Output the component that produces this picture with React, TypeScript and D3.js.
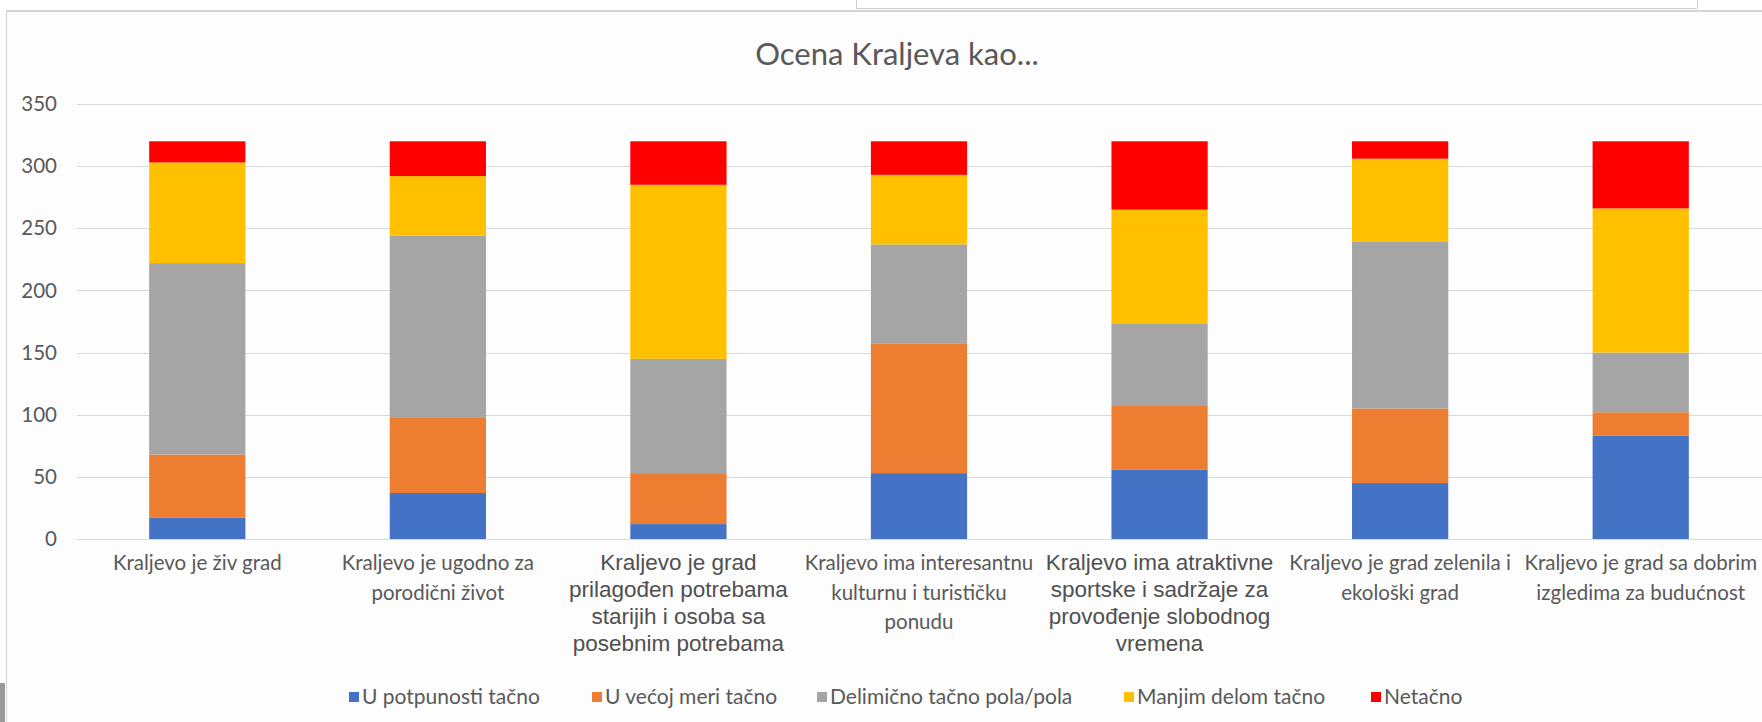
import React from "react";
import * as d3 from "d3";

const categories: string[][] = [
  ["Kraljevo je živ grad"],
  ["Kraljevo je ugodno za", "porodični život"],
  ["Kraljevo je grad", "prilagođen potrebama", "starijih i osoba sa", "posebnim potrebama"],
  ["Kraljevo ima interesantnu", "kulturnu i turističku", "ponudu"],
  ["Kraljevo ima atraktivne", "sportske i sadržaje za", "provođenje slobodnog", "vremena"],
  ["Kraljevo je grad zelenila i", "ekološki grad"],
  ["Kraljevo je grad sa dobrim", "izgledima za budućnost"],
];
// labels drawn in an Arial-like face in the original
const arialLabels = [false, false, true, false, true, false, false];

const seriesNames = [
  "U potpunosti tačno",
  "U većoj meri tačno",
  "Delimično tačno pola/pola",
  "Manjim delom tačno",
  "Netačno",
];
const seriesColors = ["#4472C4", "#ED7D31", "#A5A5A5", "#FFC000", "#FF0000"];

const potpuno = [17, 37, 12, 53, 56, 45, 83];
const vecoj = [51, 61, 41, 104, 51, 60, 19];
const delimicno = [154, 146, 92, 80, 66, 134, 48];
const manjim = [81, 48, 140, 56, 92, 67, 116];
const netacno = [17, 28, 35, 27, 55, 14, 54];

const yTicks = [0, 50, 100, 150, 200, 250, 300, 350];

const W = 1762;
const H = 722;

export default function App() {
  const x = d3
    .scaleBand<number>()
    .domain(categories.map((_, i) => i))
    .range([77, 1761])
    .paddingInner(0.6)
    .paddingOuter(0.3);
  const y = d3.scaleLinear().domain([0, 350]).range([539, 104]);

  const table = categories.map((_, i) => ({
    i,
    s0: potpuno[i],
    s1: vecoj[i],
    s2: delimicno[i],
    s3: manjim[i],
    s4: netacno[i],
  }));
  const stack = d3.stack<any>().keys(["s0", "s1", "s2", "s3", "s4"])(table);

  const legendX = [349, 592, 817, 1124, 1371];
  const textColor = "#595959";
  const font = "Lato, 'Open Sans', sans-serif";

  return (
    <svg
      width={W}
      height={H}
      style={{ position: "absolute", left: 0, top: 0, background: "#ffffff" }}
    >
      <rect x={0} y={0} width={W} height={H} fill="#ffffff" />
      {/* surrounding window fragments */}
      <line x1={856} x2={1697} y1={8.5} y2={8.5} stroke="#cfcfcf" />
      <line x1={856.5} x2={856.5} y1={0} y2={8} stroke="#cfcfcf" />
      <line x1={1697.5} x2={1697.5} y1={0} y2={8} stroke="#cfcfcf" />
      <rect x={6} y={10} width={W} height={H} fill="#fdfdfd" />
      <line x1={6} x2={W} y1={11} y2={11} stroke="#d4d4d4" strokeWidth={2} />
      <line x1={6.5} x2={6.5} y1={10} y2={H} stroke="#d4d4d4" />
      <rect x={0} y={683} width={5} height={39} fill="#999999" />

      {/* title */}
      <text x={897} y={65} textAnchor="middle" fontFamily={font} fontSize={31} fill={textColor}>
        Ocena Kraljeva kao...
      </text>

      {/* gridlines + y ticks */}
      {yTicks.map((t) => (
        <g key={t}>
          <line
            x1={77}
            x2={W}
            y1={Math.round(y(t)) + 0.5}
            y2={Math.round(y(t)) + 0.5}
            stroke="#d9d9d9"
            strokeWidth={1.2}
          />
          <text
            x={57}
            y={y(t)}
            dy="0.35em"
            textAnchor="end"
            fontFamily={font}
            fontSize={20.5}
            fill={textColor}
          >
            {t}
          </text>
        </g>
      ))}

      {/* bars */}
      {stack.map((layer, si) => (
        <g key={si} fill={seriesColors[si]}>
          {layer.map((d, ci) => (
            <rect
              key={ci}
              x={x(ci)}
              width={x.bandwidth()}
              y={y(d[1])}
              height={y(d[0]) - y(d[1])}
            />
          ))}
        </g>
      ))}

      {/* category labels */}
      {categories.map((lines, ci) => {
        const cx = (x(ci) as number) + x.bandwidth() / 2;
        const arial = arialLabels[ci];
        const lh = arial ? 27 : 29.5;
        return (
          <text
            key={ci}
            x={cx}
            y={570}
            textAnchor="middle"
            fontFamily={arial ? "'Liberation Sans', Arial, sans-serif" : font}
            fontSize={arial ? 22.5 : 20.5}
            fill={arial ? "#505050" : textColor}
          >
            {lines.map((ln, li) => (
              <tspan key={li} x={cx} y={570 + li * lh}>
                {ln}
              </tspan>
            ))}
          </text>
        );
      })}

      {/* legend */}
      {seriesNames.map((name, si) => (
        <g key={si}>
          <rect x={legendX[si]} y={692} width={10} height={10} fill={seriesColors[si]} />
          <text
            x={legendX[si] + 13}
            y={697}
            dy="0.35em"
            fontFamily={font}
            fontSize={21}
            fill={textColor}
          >
            {name}
          </text>
        </g>
      ))}
    </svg>
  );
}
